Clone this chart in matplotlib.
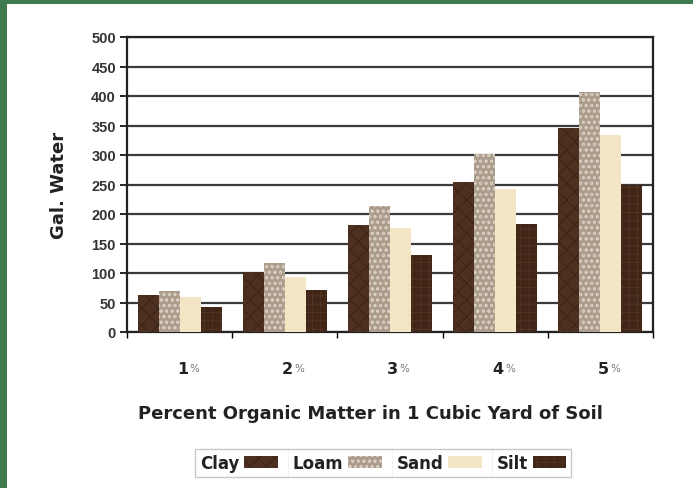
import numpy as np
import matplotlib.pyplot as plt
from matplotlib.patches import Rectangle
from matplotlib.lines import Line2D

plt.rcParams['font.family'] = ['Liberation Sans', 'DejaVu Sans']
plt.rcParams['hatch.linewidth'] = 0.6

# values
pct = ['1', '2', '3', '4', '5']
clay = [62, 101, 182, 254, 346]
loam = [69, 117, 213, 302, 407]
sand = [59, 93, 176, 242, 334]
silt = [42, 72, 131, 183, 249]
series = ['Clay', 'Loam', 'Sand', 'Silt']

fig = plt.figure(figsize=(6.93, 4.89), dpi=100)
fig.patch.set_facecolor('#3e7a4e')
fig.patches.append(Rectangle((7 / 693, 0), 1, 1 - 5 / 489, transform=fig.transFigure,
                             facecolor='white', edgecolor='none', zorder=-5))

ax = fig.add_axes([127 / 693, 1 - 333 / 489, 526 / 693, 295 / 489])

x = np.arange(len(pct))
w = 0.2
styles = [
    dict(color='#4d3020', hatch='xx', edgecolor='#3a2214'),
    dict(color='#ab9c8c', hatch='ooo', edgecolor='#d9cec2'),
    dict(color='#f2e6c4', hatch=None, edgecolor='#f2e6c4'),
    dict(color='#3f2617', hatch='++', edgecolor='#553523'),
]
for i, (name, vals) in enumerate(zip(series, [clay, loam, sand, silt])):
    st = styles[i]
    ax.bar(x - 0.3 + i * w, vals, w, color=st['color'], hatch=st['hatch'],
           edgecolor=st['edgecolor'], linewidth=0, label=name, zorder=3)

ax.set_ylim(0, 500)
ax.set_xlim(-0.5, len(pct) - 0.5)
ax.set_yticks(np.arange(0, 501, 50))
ax.yaxis.grid(True, color='#3a3a3a', linewidth=1.6, zorder=0)
ax.set_axisbelow(True)
for s in ax.spines.values():
    s.set_color('#222222')
    s.set_linewidth(1.6)
ax.tick_params(axis='y', length=5, width=1.2, labelsize=10.5, pad=3)
for lab in ax.get_yticklabels():
    lab.set_fontweight('bold')
    lab.set_color('#333333')

ax.set_xticks(np.arange(len(pct) + 1) - 0.5)
ax.set_xticklabels([])
ax.tick_params(axis='x', length=4, width=1)
for xi, p in zip(x, pct):
    ax.annotate(p, (xi, 0), xytext=(2, -26), textcoords='offset points',
                ha='center', va='center', fontsize=11.5, fontweight='bold',
                color='#222222', family='DejaVu Sans')
    ax.annotate('%', (xi, 0), xytext=(7, -26), textcoords='offset points',
                ha='left', va='center', fontsize=7.5, color='#777777',
                family='DejaVu Sans')

ax.set_ylabel('Gal. Water', fontsize=13, fontweight='bold', color='#222222',
              labelpad=17, family='DejaVu Sans')
ax.set_xlabel('Percent Organic Matter in 1 Cubic Yard of Soil', fontsize=13,
              fontweight='bold', color='#222222', labelpad=44, family='DejaVu Sans')
ax.xaxis.set_label_coords(0.462, -0.245)

leg = fig.legend(loc='center', bbox_to_anchor=(383 / 693, 1 - 464 / 489), ncol=4,
                 markerfirst=False, frameon=True, fancybox=False, edgecolor='#bbbbbb',
                 prop={'family': 'DejaVu Sans', 'weight': 'bold', 'size': 12},
                 handlelength=2.0, handleheight=0.7, columnspacing=0.9,
                 handletextpad=0.3, borderpad=0.3)
for t in leg.get_texts():
    t.set_color('#222222')

# thin separators between legend cells, like the spreadsheet legend table
fig.canvas.draw()
inv = fig.transFigure.inverted()
fb = leg.get_frame().get_window_extent()
y0, y1 = inv.transform((0, fb.y0))[1], inv.transform((0, fb.y1))[1]
for t in leg.get_texts()[1:]:
    tb = t.get_window_extent()
    xs = inv.transform((tb.x0 - 5, 0))[0]
    fig.add_artist(Line2D([xs, xs], [y0, y1], color='#bbbbbb', linewidth=0.8,
                          transform=fig.transFigure))

fig.savefig('out.png', dpi=100)
